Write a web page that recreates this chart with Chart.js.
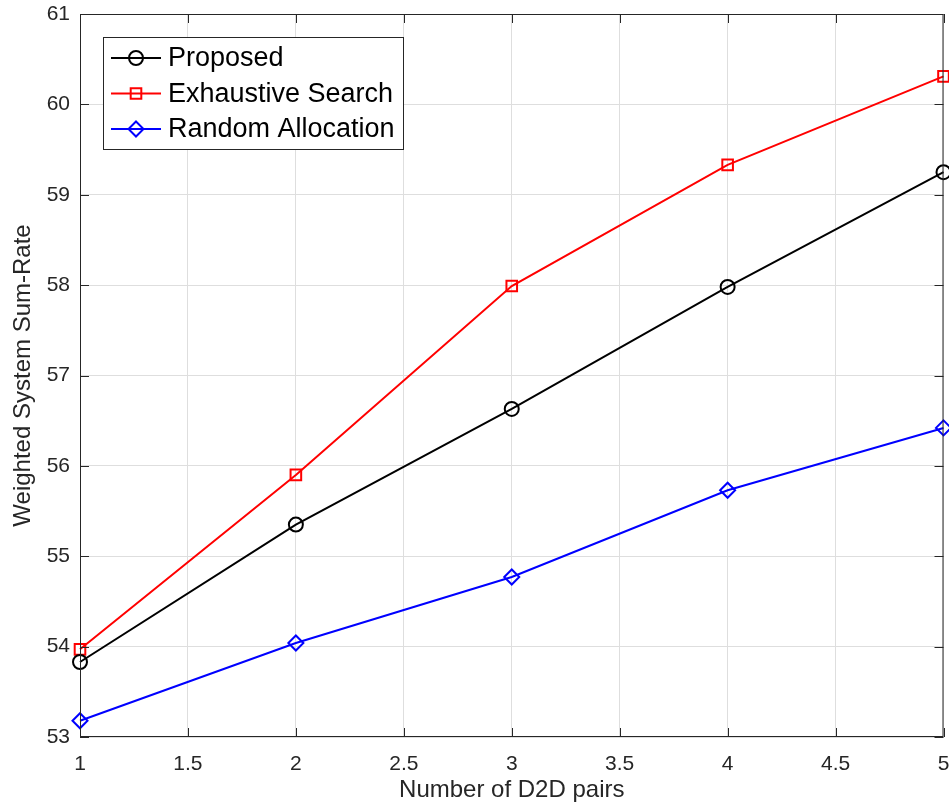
<!DOCTYPE html>
<html>
<head>
<meta charset="utf-8">
<script src="https://cdn.jsdelivr.net/npm/chart.js@4/dist/chart.umd.min.js"></script>
<style>
  html, body { margin: 0; padding: 0; background: #fff; overflow: hidden; }
  canvas { display: block; }
</style>
</head>
<body>
<canvas id="chart" width="953" height="808" style="width:953px;height:808px"></canvas>
<script>
    'use strict';

    const pairs = [1, 2, 3, 4, 5];
    const proposed = [53.83, 55.35, 56.63, 57.98, 59.25];
    const exhaustive = [53.97, 55.90, 57.99, 59.33, 60.31];
    const randomAlloc = [53.18, 54.04, 54.77, 55.73, 56.42];
    const xTicks = [1, 1.5, 2, 2.5, 3, 3.5, 4, 4.5, 5];
    const yTicks = [53, 54, 55, 56, 57, 58, 59, 60, 61];

    const FONT = "'Liberation Sans', Arial, sans-serif";

    function toPoints(values) {
        return pairs.map((x, i) => ({ x: x, y: values[i] }));
    }

    function series(label, values, color, style, radius) {
        return {
            label: label,
            data: toPoints(values),
            borderColor: color,
            backgroundColor: 'rgba(0,0,0,0)',
            borderWidth: 2,
            pointStyle: style,
            pointRadius: radius,
            pointBorderWidth: 2,
            pointBorderColor: color,
            pointBackgroundColor: 'rgba(0,0,0,0)',
            tension: 0,
            clip: false
        };
    }

    function drawMarker(ctx, style, x, y, r) {
        ctx.beginPath();
        if (style === 'circle') {
            ctx.arc(x, y, r, 0, Math.PI * 2);
        } else if (style === 'rect') {
            const s = Math.SQRT1_2 * r;
            ctx.rect(x - s, y - s, 2 * s, 2 * s);
        } else {
            ctx.moveTo(x, y - r);
            ctx.lineTo(x + r, y);
            ctx.lineTo(x, y + r);
            ctx.lineTo(x - r, y);
            ctx.closePath();
        }
        ctx.stroke();
    }

    // axes box with inward ticks, like the original figure
    const boxPlugin = {
        id: 'box',
        afterDatasetsDraw(chart) {
            const ctx = chart.ctx;
            const a = chart.chartArea;
            const xs = chart.scales.x, ys = chart.scales.y;
            const len = 9;
            ctx.save();
            ctx.strokeStyle = '#262626';
            ctx.lineWidth = 1;
            ctx.strokeRect(a.left + 0.5, a.top + 0.5, a.right - a.left - 1, a.bottom - a.top - 1);
            ctx.beginPath();
            xTicks.forEach(v => {
                const px = Math.round(xs.getPixelForValue(v)) + 0.5;
                ctx.moveTo(px, a.bottom); ctx.lineTo(px, a.bottom - len);
                ctx.moveTo(px, a.top); ctx.lineTo(px, a.top + len);
            });
            yTicks.forEach(v => {
                const py = Math.round(ys.getPixelForValue(v)) + 0.5;
                ctx.moveTo(a.left, py); ctx.lineTo(a.left + len, py);
                ctx.moveTo(a.right, py); ctx.lineTo(a.right - len, py);
            });
            ctx.stroke();
            ctx.restore();
        }
    };

    // legend box inside the plot, top left
    const legendPlugin = {
        id: 'insideLegend',
        afterDraw(chart) {
            const ctx = chart.ctx;
            const bx = 103, by = 37, bw = 300, bh = 112;
            ctx.save();
            ctx.fillStyle = '#fff';
            ctx.fillRect(bx, by, bw, bh);
            ctx.strokeStyle = '#262626';
            ctx.lineWidth = 1;
            ctx.strokeRect(bx + 0.5, by + 0.5, bw, bh);
            ctx.font = '27px ' + FONT;
            ctx.textBaseline = 'middle';
            chart.data.datasets.forEach((ds, i) => {
                const y = 58 + i * 35.5;
                ctx.strokeStyle = ds.borderColor;
                ctx.lineWidth = 2;
                ctx.beginPath();
                ctx.moveTo(111, y);
                ctx.lineTo(161, y);
                ctx.stroke();
                drawMarker(ctx, ds.pointStyle, 136, y, ds.pointRadius);
                ctx.fillStyle = '#000';
                ctx.fillText(ds.label, 168, y + 1);
            });
            ctx.restore();
        }
    };

    new Chart(document.getElementById('chart'), {
        type: 'line',
        data: {
            datasets: [
                series('Proposed', proposed, '#000000', 'circle', 7),
                series('Exhaustive Search', exhaustive, '#ff0000', 'rect', 7.5),
                series('Random Allocation', randomAlloc, '#0000ff', 'rectRot', 7.5)
            ]
        },
        options: {
            responsive: false,
            animation: false,
            layout: { padding: { top: 14, right: 0, left: 0, bottom: 0 } },
            plugins: {
                legend: { display: false },
                tooltip: { enabled: false }
            },
            scales: {
                x: {
                    type: 'linear',
                    min: 1,
                    max: 5,
                    afterFit: s => {
                        s.height = 71;
                        s.paddingLeft = 0;
                        s.paddingRight = 0;
                    },
                    afterBuildTicks: s => { s.ticks = xTicks.map(v => ({ value: v })); },
                    grid: { color: '#dedede', drawTicks: false },
                    border: { display: false },
                    ticks: {
                        padding: 15,
                        color: '#262626',
                        font: { family: FONT, size: 21 },
                        callback: v => String(v)
                    },
                    title: {
                        display: true,
                        text: 'Number of D2D pairs',
                        color: '#262626',
                        font: { family: FONT, size: 24 },
                        padding: { top: 0, bottom: 3 }
                    }
                },
                y: {
                    min: 53,
                    max: 61,
                    afterFit: s => {
                        s.width = 80;
                        s.paddingTop = 0;
                        s.paddingBottom = 0;
                    },
                    afterBuildTicks: s => { s.ticks = yTicks.map(v => ({ value: v })); },
                    grid: { color: '#dedede', drawTicks: false },
                    border: { display: false },
                    ticks: {
                        padding: 10,
                        color: '#262626',
                        font: { family: FONT, size: 21 },
                        callback: v => String(v)
                    },
                    title: {
                        display: true,
                        text: 'Weighted System Sum-Rate',
                        color: '#262626',
                        font: { family: FONT, size: 24 },
                        padding: { top: 9, bottom: 0 }
                    }
                }
            }
        },
        plugins: [boxPlugin, legendPlugin]
    });
</script>
</body>
</html>
